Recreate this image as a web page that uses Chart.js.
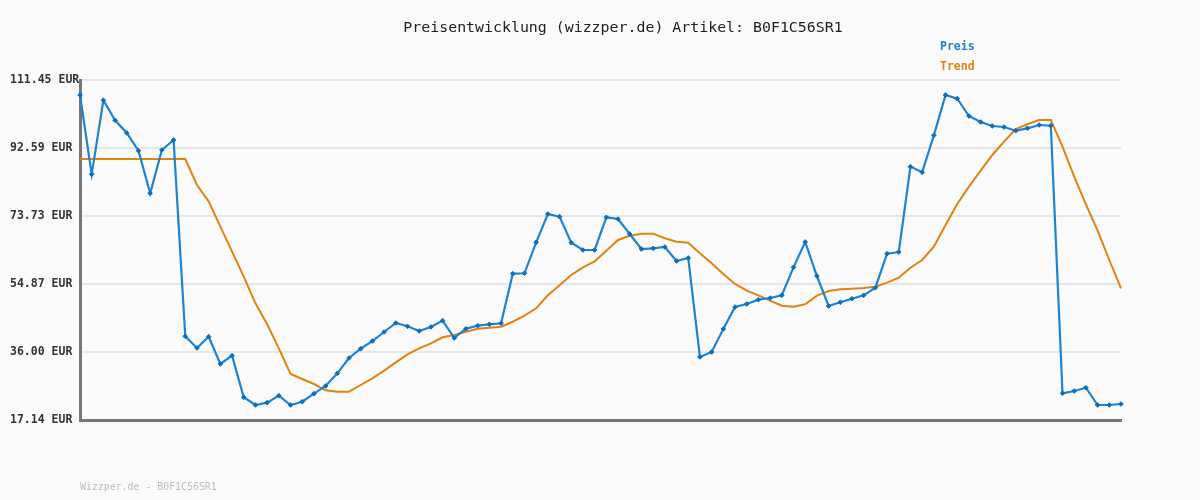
<!DOCTYPE html>
<html><head><meta charset="utf-8">
<script src="https://cdn.jsdelivr.net/npm/chart.js@4/dist/chart.umd.min.js"></script>
<style>html,body{margin:0;padding:0;background:#fafafa;}#wrap{width:1200px;height:500px;}</style>
</head><body><div id="wrap"><canvas id="c" width="1200" height="500"></canvas></div>
<script>
const categories = [1,2,3,4,5,6,7,8,9,10,11,12,13,14,15,16,17,18,19,20,21,22,23,24,25,26,27,28,29,30,31,32,33,34,35,36,37,38,39,40,41,42,43,44,45,46,47,48,49,50,51,52,53,54,55,56,57,58,59,60,61,62,63,64,65,66,67,68,69,70,71,72,73,74,75,76,77,78,79,80,81,82,83,84,85,86,87,88,89,90];
const preis = [107.29,85.29,105.82,100.27,96.75,91.85,80.02,92.03,94.81,40.35,
37.11,40.26,32.68,34.99,23.44,21.30,21.95,23.89,21.30,22.22,
24.45,26.57,30.09,34.34,36.92,39.05,41.55,44.05,43.13,41.83,
42.94,44.70,39.89,42.47,43.30,43.68,43.96,57.73,57.84,66.43,
74.28,73.54,66.32,64.30,64.30,73.36,72.89,68.73,64.57,64.76,
65.13,61.24,62.08,34.62,36.00,42.38,48.48,49.32,50.51,50.98,
51.73,59.49,66.51,57.08,48.76,49.79,50.79,51.72,53.84,63.27,
63.74,87.42,85.84,96.10,107.29,106.27,101.46,99.80,98.69,98.41,
97.39,98.05,98.97,98.78,24.54,25.18,26.10,21.30,21.30,21.58];
const trend = [89.54,89.54,89.54,89.54,89.54,89.54,89.54,89.54,89.54,89.54,
82.33,77.80,70.77,63.83,56.90,49.51,43.68,37.02,29.90,28.51,
27.12,25.37,24.99,24.99,26.85,28.70,30.83,33.14,35.36,37.02,
38.40,40.08,40.72,41.63,42.47,42.74,43.02,44.40,46.07,48.12,
51.72,54.50,57.36,59.49,61.15,64.11,67.07,68.26,68.82,68.82,
67.54,66.60,66.32,63.37,60.60,57.64,54.87,53.01,51.72,50.23,
48.85,48.57,49.23,51.62,52.92,53.39,53.57,53.76,54.12,55.24,
56.62,59.39,61.52,65.22,71.23,77.06,81.86,86.30,90.65,94.34,
97.86,99.16,100.36,100.36,92.95,84.63,76.97,69.65,61.52,53.67];
const tickValues = [17.14, 36.00, 54.87, 73.73, 92.59, 111.45];
const tickLabels = ['17.14 EUR','36.00 EUR','54.87 EUR','73.73 EUR','92.59 EUR','111.45 EUR'];
const titleText = 'Preisentwicklung (wizzper.de) Artikel: B0F1C56SR1';
const footerText = 'Wizzper.de - B0F1C56SR1';
const seriesNames = ['Preis','Trend'];
const BLUE = '#1f83d0', BLUE_DARK = '#0a6fc0', ORANGE = '#e2820f';
const MONO = '"DejaVu Sans Mono", "Liberation Mono", monospace';

const textPlugin = {
  id: 'texts',
  beforeDraw(chart) {
    const ctx = chart.ctx;
    ctx.save();
    ctx.fillStyle = '#fafafa';
    ctx.fillRect(0, 0, chart.width, chart.height);
    ctx.restore();
  },
  afterDraw(chart) {
    const ctx = chart.ctx;
    ctx.save();
    ctx.textBaseline = 'middle';
    ctx.font = '14.9px ' + MONO;
    ctx.fillStyle = '#222';
    ctx.textAlign = 'center';
    ctx.fillText(titleText, 623, 28);
    ctx.textAlign = 'left';
    ctx.font = 'bold 11.5px ' + MONO;
    ctx.fillStyle = BLUE;
    ctx.fillText(seriesNames[0], 940, 47);
    ctx.fillStyle = ORANGE;
    ctx.fillText(seriesNames[1], 940, 67);
    ctx.font = '9.9px ' + MONO;
    ctx.fillStyle = '#bdbdbd';
    ctx.fillText(footerText, 80, 487);
    ctx.restore();
  }
};

new Chart(document.getElementById('c'), {
  type: 'line',
  data: {
    labels: categories,
    datasets: [
      { label: seriesNames[0], data: preis, borderColor: BLUE, borderWidth: 2.2,
        pointStyle: 'rectRot', pointRadius: 2.3, pointBackgroundColor: BLUE_DARK, pointBorderColor: BLUE_DARK,
        pointBorderWidth: 1, tension: 0, order: 1 },
      { label: seriesNames[1], data: trend, borderColor: ORANGE, borderWidth: 2,
        pointRadius: 0, tension: 0, order: 2 }
    ]
  },
  options: {
    responsive: false,
    animation: false,
    devicePixelRatio: 1,
    layout: { padding: { left: 10, right: 79, top: 80, bottom: 80 } },
    plugins: { legend: { display: false }, title: { display: false }, tooltip: { enabled: false } },
    scales: {
      x: {
        type: 'category', offset: false,
        grid: { display: false, drawTicks: false },
        border: { display: true, color: '#777', width: 3 },
        ticks: { display: false },
        afterFit(s) { s.height = 0; }
      },
      y: {
        min: tickValues[0], max: tickValues[tickValues.length - 1],
        afterBuildTicks(s) { s.ticks = tickValues.map(v => ({ value: v })); },
        grid: { color: '#e6e6e6', lineWidth: 2, drawTicks: false },
        border: { display: true, color: '#777', width: 3 },
        ticks: {
          crossAlign: 'far', padding: 0, color: '#333',
          font: { family: MONO, size: 11.5, weight: 'bold' },
          callback(v, i) { return tickLabels[i]; }
        },
        afterFit(s) { s.width = 70; }
      }
    }
  },
  plugins: [textPlugin]
});
</script></body></html>
